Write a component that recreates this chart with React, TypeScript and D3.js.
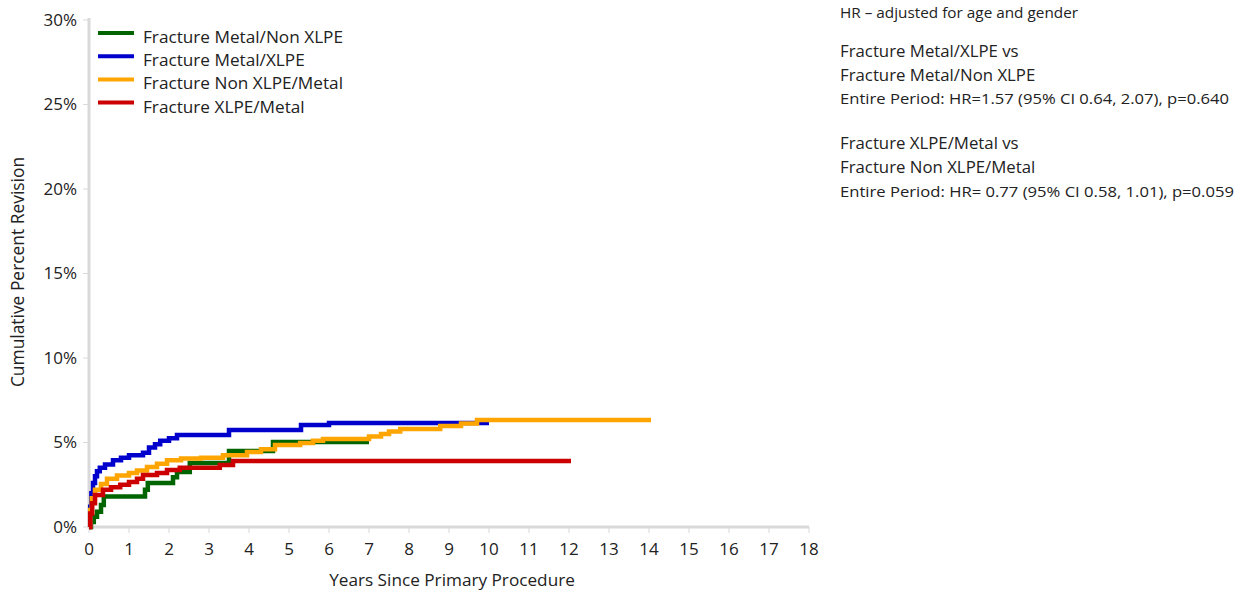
import React from "react";
import * as d3 from "d3";

const xTicks = d3.range(0, 19);
const yTicks = [0, 5, 10, 15, 20, 25, 30];

const seriesNames = [
  "Fracture Metal/Non XLPE",
  "Fracture Metal/XLPE",
  "Fracture Non XLPE/Metal",
  "Fracture XLPE/Metal",
];
const seriesColors = ["#006400", "#0000cd", "#ffa500", "#cc0000"];

const metalNonXlpe: [number, number][] = [
  [0, 0], [0.05, 0.3], [0.12, 0.6], [0.2, 0.9], [0.3, 1.3], [0.37, 1.8],
  [1.4, 2.2], [1.47, 2.6], [2.1, 2.95], [2.2, 3.25], [2.52, 3.78],
  [3.5, 4.5], [4.6, 5.03], [7.0, 5.03],
];
const metalXlpe: [number, number][] = [
  [0, 0], [0.03, 1.2], [0.06, 2.0], [0.1, 2.6], [0.15, 3.0], [0.2, 3.3],
  [0.27, 3.5], [0.4, 3.7], [0.6, 3.95], [0.8, 4.1], [1.0, 4.25], [1.35, 4.4],
  [1.5, 4.7], [1.65, 4.9], [1.78, 5.1], [2.0, 5.25], [2.2, 5.44], [3.5, 5.74],
  [5.3, 6.04], [6.0, 6.15], [10.0, 6.15],
];
const nonXlpeMetal: [number, number][] = [
  [0, 0], [0.03, 1.0], [0.07, 1.7], [0.15, 2.2], [0.3, 2.55], [0.45, 2.85],
  [0.7, 3.05], [1.0, 3.2], [1.2, 3.35], [1.45, 3.55], [1.7, 3.75], [1.95, 3.95],
  [2.3, 4.05], [2.8, 4.1], [3.35, 4.25], [3.95, 4.44], [4.3, 4.6], [4.65, 4.85],
  [5.28, 4.97], [5.6, 5.1], [5.85, 5.2], [7.0, 5.35], [7.3, 5.5], [7.5, 5.65],
  [7.78, 5.8], [8.78, 5.98], [9.3, 6.12], [9.7, 6.33], [14.05, 6.33],
];
const xlpeMetal: [number, number][] = [
  [0, 0], [0.03, 0.8], [0.08, 1.4], [0.15, 1.9], [0.35, 2.2], [0.55, 2.35],
  [0.78, 2.5], [1.0, 2.66], [1.2, 2.85], [1.35, 3.08], [1.7, 3.2], [1.95, 3.37],
  [2.27, 3.5], [3.27, 3.67], [3.6, 3.9], [12.05, 3.9],
];
const seriesData = [metalNonXlpe, metalXlpe, nonXlpeMetal, xlpeMetal];

const annotationLines = [
  "HR – adjusted for age and gender",
  "Fracture Metal/XLPE vs",
  "Fracture Metal/Non XLPE",
  "Entire Period: HR=1.57 (95% CI 0.64, 2.07), p=0.640",
  "Fracture XLPE/Metal vs",
  "Fracture Non XLPE/Metal",
  "Entire Period: HR= 0.77 (95% CI 0.58, 1.01), p=0.059",
];

const FONT = "'Open Sans', 'Noto Sans', sans-serif";

export default function App() {
  const W = 1247, H = 594;
  const x = d3.scaleLinear().domain([0, 18]).range([89, 809]);
  const y = d3.scaleLinear().domain([0, 30]).range([527, 20]);
  const line = d3
    .line<[number, number]>()
    .x((d) => x(d[0]))
    .y((d) => y(d[1]))
    .curve(d3.curveStepAfter);

  const annY = [13, 51, 75, 99, 143, 167, 192];
  const annSize = [14, 16.8, 16.8, 15, 16.8, 16.8, 15];
  const annLen: (number | undefined)[] = [238, undefined, undefined, 389, undefined, undefined, 394];

  return (
    <svg
      width={W}
      height={H}
      style={{ position: "absolute", left: 0, top: 0, background: "#fff" }}
      fontFamily={FONT}
    >
      {/* axes */}
      <line x1={x(0)} x2={x(0)} y1={y(30) - 2} y2={y(0) + 1.5} stroke="#d9d9d9" strokeWidth={3} />
      <line x1={x(0) - 1.5} x2={x(18)} y1={y(0)} y2={y(0)} stroke="#d9d9d9" strokeWidth={3} />
      {yTicks.map((t) => (
        <g key={"y" + t}>
          <line x1={x(0) - 6} x2={x(0)} y1={y(t)} y2={y(t)} stroke="#d9d9d9" strokeWidth={1} />
          <text x={77} y={y(t)} dy="0.35em" textAnchor="end" fontSize={17} fill="#222">
            {t + "%"}
          </text>
        </g>
      ))}
      {xTicks.map((t) => (
        <g key={"x" + t}>
          <line x1={x(t)} x2={x(t)} y1={y(0)} y2={y(0) + 6} stroke="#d9d9d9" strokeWidth={1} />
          <text x={x(t)} y={549} dy="0.35em" textAnchor="middle" fontSize={17} fill="#222">
            {t}
          </text>
        </g>
      ))}
      <text x={452} y={580} dy="0.35em" textAnchor="middle" fontSize={17.2} fill="#222">
        Years Since Primary Procedure
      </text>
      <text
        transform={`translate(18,272) rotate(-90)`}
        dy="0.35em"
        textAnchor="middle"
        fontSize={17.4}
        fill="#222"
      >
        Cumulative Percent Revision
      </text>

      {/* curves */}
      {seriesData.map((d, i) => (
        <path
          key={"s" + i}
          d={line(d) || ""}
          fill="none"
          stroke={seriesColors[i]}
          strokeWidth={4.5}
          strokeLinejoin="miter"
        />
      ))}

      {/* legend */}
      {seriesNames.map((n, i) => (
        <g key={"l" + i}>
          <line x1={98} x2={134} y1={33 + i * 23.2} y2={33 + i * 23.2} stroke={seriesColors[i]} strokeWidth={4} />
          <text x={143} y={37 + i * 23.2} dy="0.35em" fontSize={17.2} fill="#222">
            {n}
          </text>
        </g>
      ))}

      {/* annotation */}
      {annotationLines.map((t, i) => (
        <text
          key={"a" + i}
          x={840}
          y={annY[i]}
          dy="0.35em"
          fontSize={annSize[i]}
          fill="#222"
          {...(annLen[i] ? { textLength: annLen[i], lengthAdjust: "spacingAndGlyphs" } : {})}
        >
          {t}
        </text>
      ))}
    </svg>
  );
}
